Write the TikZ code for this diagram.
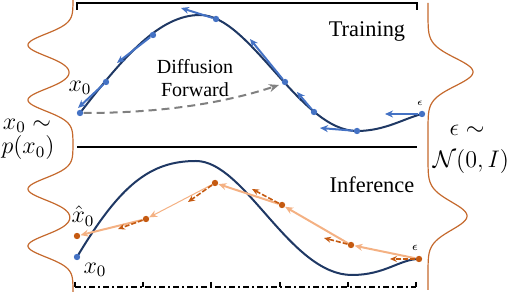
\documentclass[tikz,border=0pt]{standalone}
\usepackage{fontspec}
\setmainfont{Liberation Serif}
\usepackage{amsmath}
\usetikzlibrary{arrows.meta}
\definecolor{curveNavy}  {RGB}{31,  56, 100}
\definecolor{stepBlue}   {RGB}{68, 114, 196}
\definecolor{gaussOrange}{RGB}{197,105,  45}
\definecolor{noiseOrange}{RGB}{197, 90,  17}
\definecolor{peach}      {RGB}{244,177, 131}
\definecolor{fwdGray}    {RGB}{128,128, 128}

\tikzset{
  frameline/.style={black,line width=1.2pt},
  gauss/.style={gaussOrange,line width=0.6pt},
  datacurve/.style={curveNavy,line width=1pt},
  tangent/.style={stepBlue,line width=1pt,-{Stealth[length=4pt,width=3.5pt]}},
  denoise/.style={peach,line width=1pt,-{Stealth[length=4pt,width=3.5pt]}},
  noisestep/.style={noiseOrange,line width=0.8pt,dash pattern=on 2.5pt off 1pt,
                    -{Stealth[length=3.5pt,width=3pt]}},
  bdot/.style={circle,fill=stepBlue,inner sep=0pt,minimum size=3.2pt},
  odot/.style={circle,fill=noiseOrange,inner sep=0pt,minimum size=3.2pt},
  lbl/.style={font=\fontsize{11.2}{13}\selectfont},
  mlbl/.style={font=\fontsize{11.5}{13}\selectfont,inner sep=1pt}
}

\begin{document}
\begin{tikzpicture}[x=0.5pt,y=-0.5pt,
    declare function={bump(\v,\m,\w)=exp(max(-9,(\v-\m)*(\m-\v)/\w));}]
  \useasboundingbox (0,0) rectangle (508,292);

  % Rahmen
  \draw[frameline] (77,10) -- (77,3) -- (417,3) -- (417,10);
  \draw[frameline] (77,147) -- (417,147);
  \draw[frameline,dash pattern=on 3pt off 1.5pt on 1pt off 1.5pt] (75,287) -- (416,287);
  \foreach \x in {75,143,211,280,348,416}{
    \draw[frameline] (\x,282) -- (\x,287);
  }

  % Verteilungen
  \draw[gauss] plot[domain=0:29.2,samples=240,variable=\t]
    ({73-45*(bump(\t,4.5,2.42)+bump(\t,10,2.42)+bump(\t,18.9,2.42)+bump(\t,24.6,2.42))},{10*\t});
  \draw[gauss] plot[domain=0.3:29,samples=200,variable=\t]
    ({428+45*bump(\t,7.2,3.9)+39*bump(\t,21.6,3.9)},{10*\t});
  \node[mlbl] (pdata) at (27,126) {$x_0\sim$};
  \node[mlbl] (pdatab) at (28,148) {$p(x_0)$};
  \node[mlbl] (pnoise) at (467,130) {$\epsilon\sim$};
  \node[mlbl] (pnoiseb) at (471,162) {$\mathcal{N}(0,I)$};

  % Training
  \draw[datacurve] (80,113) .. controls (125,55) and (160,15) .. (200,15)
    .. controls (250,15) and (300,131) .. (357,131)
    .. controls (385,131) and (405,118) .. (422,114);
  \foreach \n/\x/\y in {t0/80/113, t1/106/82, t2/153/35, t3/216/19,
                        t4/285/82, t5/314/112, t6/357/131, t7/422/114}{
    \node[bdot] (\n) at (\x,\y) {};
  }
  \foreach \n/\x/\y in {t1/78/108, t2/117/63, t3/181/8, t4/250/39,
                        t5/297/92, t6/320/128, t7/385/114}{
    \coordinate (\n e) at (\x,\y);
    \draw[tangent] (\n) -- (\n e);
  }
  \coordinate (fwdEnd) at (279,85);
  \draw[fwdGray,line width=1pt,dash pattern=on 4pt off 2.5pt,
        -{Stealth[length=5pt,width=4pt]}]
    (t0) .. controls (170,113) and (230,101) .. (fwdEnd);
  \node[lbl] (train) at (367,32) {Training};
  \node[font=\fontsize{10}{11.5}\selectfont,align=center] (fwd) at (195,78) {Diffusion\\Forward};
  \node[mlbl] (x0t) at (80,88) {$x_0$};
  \node[font=\fontsize{5}{6}\selectfont,inner sep=0pt] (epst) at (420,103) {$\epsilon$};

  % Inference
  \draw[datacurve] (77,257) .. controls (120,185) and (150,161) .. (196,161)
    .. controls (245,161) and (290,275) .. (352,275)
    .. controls (385,275) and (400,259) .. (419,259);
  \node[bdot] (b0) at (77,257) {};
  \foreach \n/\x/\y in {i0/419/259, i1/351/245, i2/282/205,
                        i3/215/183, i4/146/219, i5/77/236}{
    \node[odot] (\n) at (\x,\y) {};
  }
  \draw[denoise] (i0) -- (i1);
  \draw[denoise] (i1) -- (i2);
  \draw[denoise] (i2) -- (i3);
  \draw[denoise,line width=0.5pt] (i3) -- (i4);
  \draw[denoise] (i4) -- (i5);
  \foreach \n/\x/\y in {i0/390/259, i1/324/238, i2/252/189,
                        i3/188/202, i4/118/229}{
    \coordinate (\n e) at (\x,\y);
    \draw[noisestep] (\n) -- (\n e);
  }
  \node[lbl] (infer) at (372,185) {Inference};
  \node[mlbl] (x0hat) at (83,216) {$\hat{x}_0$};
  \node[mlbl] (x0b) at (95,270) {$x_0$};
  \node[font=\fontsize{6}{7}\selectfont,inner sep=0pt] (epsi) at (415,248) {$\epsilon$};
\end{tikzpicture}
\end{document}
